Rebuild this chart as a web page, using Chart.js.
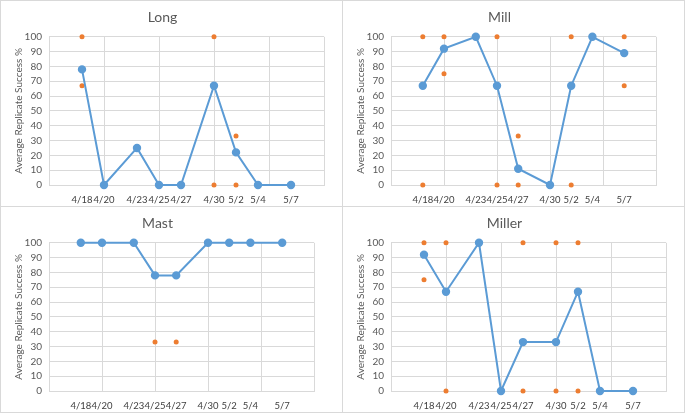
<!DOCTYPE html>
<html lang="en">
<head>
  <meta charset="UTF-8">
  <title>Average Replicate Success</title>
  <script src="https://cdn.jsdelivr.net/npm/chart.js"></script>
  <style>
    html, body { margin: 0; padding: 0; background: #fff; }
    body { width: 685px; height: 413px; position: relative; overflow: hidden; }
    .panel { position: absolute; box-sizing: border-box; border: 1px solid #d9d9d9; background: #fff; }
    .panel canvas { position: absolute; left: 0; top: 0; }
  </style>
</head>
<body>
  <div class="panel" style="left:0;top:0;width:343px;height:207px"><canvas id="cLong" width="341" height="205"></canvas></div>
  <div class="panel" style="left:342px;top:0;width:343px;height:207px"><canvas id="cMill" width="341" height="205"></canvas></div>
  <div class="panel" style="left:0;top:206px;width:343px;height:207px"><canvas id="cMast" width="341" height="205"></canvas></div>
  <div class="panel" style="left:342px;top:206px;width:343px;height:207px"><canvas id="cMiller" width="341" height="205"></canvas></div>

  <script>
    // sampling dates (x axis labels)
    const dates = ['4/18', '4/20', '4/23', '4/25', '4/27', '4/30', '5/2', '5/4', '5/7'];
    const axisStart = '4/15';
    const axisEnd = '5/10';

    // average replicate success per site (%)
    const longAvg   = [78, 0, 25, 0, 0, 67, 22, 0, 0];
    const millAvg   = [67, 92, 100, 67, 11, 0, 67, 100, 89];
    const mastAvg   = [100, 100, 100, 78, 78, 100, 100, 100, 100];
    const millerAvg = [92, 67, 100, 0, 33, 33, 67, 0, 0];

    // individual replicate values (orange points)
    const longRepDates   = ['4/18', '4/18', '4/30', '4/30', '5/2', '5/2'];
    const longRepVals    = [100, 67, 100, 0, 33, 0];
    const millRepDates   = ['4/18', '4/18', '4/20', '4/20', '4/25', '4/25', '4/27', '4/27', '5/2', '5/2', '5/7', '5/7'];
    const millRepVals    = [100, 0, 100, 75, 100, 0, 33, 0, 100, 0, 100, 67];
    const mastRepDates   = ['4/25', '4/27'];
    const mastRepVals    = [33, 33];
    const millerRepDates = ['4/18', '4/18', '4/20', '4/20', '4/27', '4/27', '4/30', '4/30', '5/2', '5/2'];
    const millerRepVals  = [100, 75, 100, 0, 100, 0, 100, 0, 100, 0];

    const BLUE = '#5b9bd5';
    const ORANGE = '#ed7d31';
    const GRID = '#d9d9d9';
    const FONT = 'Lato, "Open Sans", sans-serif';

    Chart.defaults.font.family = FONT;

    function dayNum(s) {
      const [m, d] = s.split('/').map(Number);
      return Math.round((Date.UTC(2019, m - 1, d) - Date.UTC(2019, 3, 15)) / 86400000);
    }
    const xMin = dayNum(axisStart);
    const xMax = dayNum(axisEnd);
    const dateX = dates.map(dayNum);

    function makeChart(id, title, avg, repDates, repVals, rightPad) {
      const ctx = document.getElementById(id).getContext('2d');
      return new Chart(ctx, {
        type: 'scatter',
        data: {
          datasets: [
            {
              label: 'Average',
              data: avg.map((v, i) => ({ x: dateX[i], y: v })),
              showLine: true,
              borderColor: BLUE,
              backgroundColor: BLUE,
              borderWidth: 2,
              pointRadius: 3.2,
              clip: false,
              order: 1
            },
            {
              label: 'Replicates',
              data: repVals.map((v, i) => ({ x: dayNum(repDates[i]), y: v })),
              showLine: false,
              borderColor: ORANGE,
              backgroundColor: ORANGE,
              pointRadius: 2.5,
              borderWidth: 0,
              clip: false,
              order: 2
            }
          ]
        },
        options: {
          responsive: false,
          animation: false,
          layout: { padding: { left: 0, right: rightPad, top: 0, bottom: 1 } },
          plugins: {
            legend: { display: false },
            tooltip: { enabled: false },
            title: {
              display: true,
              text: title,
              color: '#595959',
              font: { size: 14, weight: 'normal' },
              padding: { top: 8, bottom: 11 }
            }
          },
          scales: {
            x: {
              type: 'linear',
              min: xMin,
              max: xMax,
              afterBuildTicks: (scale) => {
                const vals = new Set(dateX);
                for (let v = xMin; v <= xMax; v += 5) vals.add(v);
                scale.ticks = [...vals].sort((a, b) => a - b).map(v => ({ value: v }));
              },
              afterFit: (scale) => { scale.height = 20; },
              grid: {
                color: (c) => (c.tick && (c.tick.value - xMin) % 5 === 0 ? GRID : 'rgba(0,0,0,0)'),
                drawTicks: false
              },
              border: { color: GRID },
              ticks: {
                autoSkip: false,
                maxRotation: 0,
                padding: 9,
                color: '#404040',
                font: { size: 9.5 },
                callback: (v) => {
                  const i = dateX.indexOf(v);
                  return i >= 0 ? dates[i] : '';
                }
              }
            },
            y: {
              min: 0,
              max: 100,
              afterFit: (scale) => { scale.width = 48; },
              grid: { color: GRID, drawTicks: false },
              border: { color: GRID },
              ticks: {
                stepSize: 10,
                autoSkip: false,
                padding: 7,
                color: '#595959',
                font: { size: 10 }
              },
              title: {
                display: true,
                text: 'Average Replicate Success %',
                color: '#595959',
                font: { size: 10 },
                padding: { top: 12, bottom: 0 }
              }
            }
          }
        }
      });
    }

    makeChart('cLong', 'Long', longAvg, longRepDates, longRepVals, 18);
    makeChart('cMill', 'Mill', millAvg, millRepDates, millRepVals, 28);
    makeChart('cMast', 'Mast', mastAvg, mastRepDates, mastRepVals, 28);
    makeChart('cMiller', 'Miller', millerAvg, millerRepDates, millerRepVals, 18);
  </script>
</body>
</html>
